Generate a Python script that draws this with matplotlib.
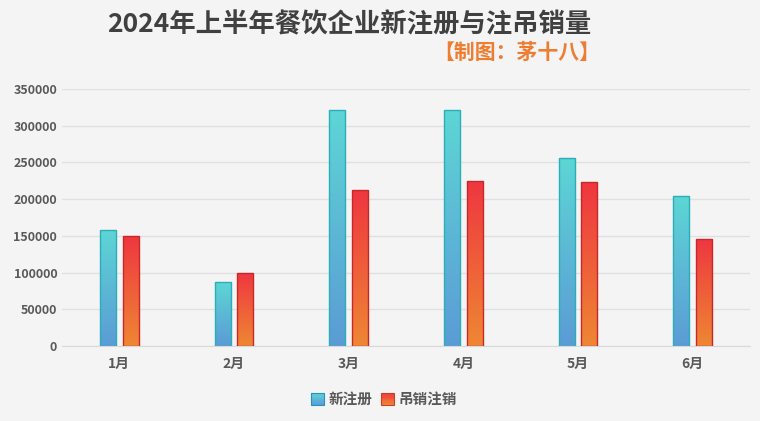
import numpy as np
import matplotlib.pyplot as plt
from matplotlib.colors import LinearSegmentedColormap
from matplotlib.patches import Patch
from matplotlib.legend_handler import HandlerPatch

plt.rcParams['font.family'] = ['Noto Sans CJK SC', 'DejaVu Sans']

months = ["1月", "2月", "3月", "4月", "5月", "6月"]
new_reg = [158000, 87000, 321000, 321000, 256000, 204000]
cancel_reg = [150000, 100000, 212000, 225000, 223000, 146000]
series_names = ["新注册", "吊销注销"]

blue_cmap = LinearSegmentedColormap.from_list("b", ["#5b9bd5", "#5dd6d6"])
red_cmap = LinearSegmentedColormap.from_list("r", ["#ef8733", "#ee3640"])
grad = np.linspace(0, 1, 256).reshape(-1, 1)


def gradient_bars(ax, bars, cmap):
    for bar in bars:
        x, y = bar.get_x(), bar.get_y()
        w, h = bar.get_width(), bar.get_height()
        im = ax.imshow(grad, cmap=cmap, origin="lower", aspect="auto",
                       extent=(x, x + w, y, y + h), zorder=2)
        im.set_clip_path(bar)


class GradHandler(HandlerPatch):
    def __init__(self, cmap, edge):
        super().__init__()
        self.cmap = cmap
        self.edge = edge

    def create_artists(self, legend, orig_handle, xdescent, ydescent,
                       width, height, fontsize, trans):
        arts = []
        n = 10
        for i in range(n):
            r = plt.Rectangle((-xdescent, -ydescent + height * i / n), width, height / n + 0.3,
                              facecolor=self.cmap((i + 0.5) / n), edgecolor="none",
                              transform=trans)
            arts.append(r)
        arts.append(plt.Rectangle((-xdescent, -ydescent), width, height,
                                  facecolor="none", edgecolor=self.edge, lw=0.8,
                                  transform=trans))
        return arts


fig = plt.figure(figsize=(7.6, 4.21), dpi=100, facecolor="#f4f4f4")
ax = fig.add_axes([62 / 760, (421 - 346) / 421, 688 / 760, 257 / 421])
ax.set_facecolor("#f4f4f4")

x = np.arange(len(months))
w = 0.14
b1 = ax.bar(x - 0.1, new_reg, w, facecolor="none", edgecolor="#2aaeb8", lw=1.0, zorder=3)
b2 = ax.bar(x + 0.1, cancel_reg, w, facecolor="none", edgecolor="#c8282a", lw=1.0, zorder=3)
gradient_bars(ax, b1, blue_cmap)
gradient_bars(ax, b2, red_cmap)

ax.set_xlim(-0.5, len(months) - 0.5)
ax.set_ylim(0, 350000)
ax.set_yticks(np.arange(0, 350001, 50000))
ax.set_xticks(x)
ax.set_xticklabels(months)
ax.yaxis.grid(True, color="#e0e0e0", lw=1)
ax.set_axisbelow(True)
for s in ["top", "right", "left"]:
    ax.spines[s].set_visible(False)
ax.spines["bottom"].set_color("#d9d9d9")
ax.tick_params(length=0, colors="#595959", labelsize=9)
ax.tick_params(axis="x", pad=8, labelsize=10)
for t in ax.get_yticklabels() + ax.get_xticklabels():
    t.set_fontweight("bold")

fig.text(349 / 760, 1 - 25 / 421, "2024年上半年餐饮企业新注册与注吊销量",
         ha="center", va="center", fontsize=19, fontweight="bold", color="#404040")
fig.text(517 / 760, 1 - 52 / 421, "【制图：茅十八】",
         ha="center", va="center", fontsize=15, fontweight="bold", color="#ee7d31")

h1 = Patch(label=series_names[0])
h2 = Patch(label=series_names[1])
leg = fig.legend([h1, h2], series_names, loc="center", bbox_to_anchor=(384 / 760, 1 - 399 / 421),
                 ncol=2, frameon=False, handlelength=0.9, handleheight=0.9,
                 handletextpad=0.3, columnspacing=0.6, fontsize=10.5,
                 handler_map={h1: GradHandler(blue_cmap, "#2a8fbf"),
                              h2: GradHandler(red_cmap, "#c8402a")})
for t in leg.get_texts():
    t.set_color("#595959")
    t.set_fontweight("bold")

fig.savefig("out.png", dpi=100, facecolor=fig.get_facecolor())
